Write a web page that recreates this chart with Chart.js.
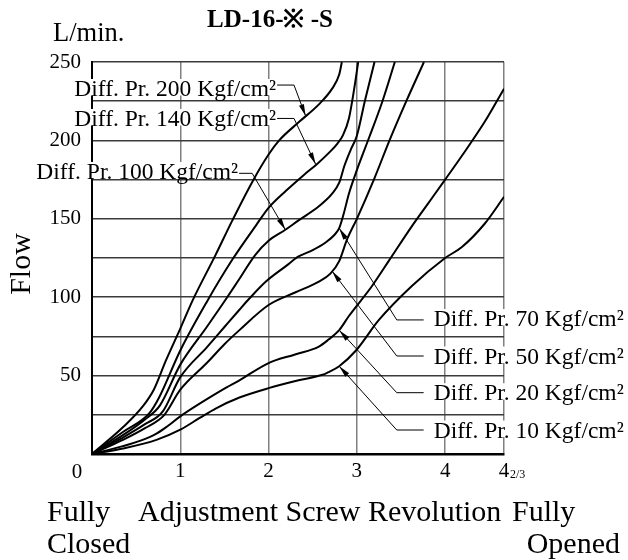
<!DOCTYPE html>
<html>
<head>
<meta charset="utf-8">
<title>LD-16 flow chart</title>
<script src="https://cdn.jsdelivr.net/npm/chart.js@4.4.0/dist/chart.umd.min.js"></script>
<style>
  html, body { margin: 0; padding: 0; background: #fff; }
  #wrap { width: 628px; height: 560px; }
</style>
</head>
<body>
<div id="wrap"><canvas id="flowChart" width="628" height="560"></canvas></div>
<script>
// --- Data (x: screw revolutions, y: flow L/min) ---
const diffPressures = [200, 140, 100, 70, 50, 20, 10];

const rev200 = [0, 0.35, 0.57, 0.7, 0.84, 1.0, 1.14, 1.4, 1.59, 1.82, 2.0, 2.12, 2.35, 2.57, 2.72, 2.8, 2.83];
const flow200 = [0, 17, 30, 41, 60, 80, 98, 127, 149, 174, 191, 200, 212, 223, 233, 242, 250];

const rev140 = [0, 0.35, 0.65, 0.76, 1.0, 1.3, 1.59, 1.86, 2.0, 2.2, 2.4, 2.55, 2.7, 2.78, 2.84, 2.91, 2.97, 3.015];
const flow140 = [0, 14, 26, 36, 66, 97, 124, 146, 157, 168, 178, 185, 193, 198, 203, 214, 233, 250];

const rev100 = [0, 0.35, 0.6, 0.77, 1.0, 1.3, 1.52, 1.65, 1.85, 2.0, 2.19, 2.34, 2.57, 2.72, 2.8, 2.86, 2.93, 3.0, 3.09, 3.2];
const flow100 = [0, 12, 22, 31, 57, 81, 99, 110, 127, 136, 143, 149, 158, 166, 173, 184, 194, 203, 225, 250];

const rev70 = [0, 0.35, 0.6, 0.8, 1.0, 1.3, 1.5, 1.67, 1.78, 1.97, 2.2, 2.34, 2.5, 2.65, 2.75, 2.8, 2.85, 2.91, 3.0, 3.14, 3.29, 3.43];
const flow70 = [0, 10.5, 19, 27, 49, 68, 81, 92, 99, 110, 120, 126, 130, 135, 140, 144, 153, 166, 181, 202, 225, 250];

const rev50 = [0, 0.35, 0.6, 0.82, 1.0, 1.3, 1.5, 1.67, 2.0, 2.3, 2.57, 2.7, 2.8, 2.89, 3.0, 3.2, 3.37, 3.56, 3.76];
const flow50 = [0, 9, 16.5, 25, 41, 58, 70, 79, 95, 103, 110, 115, 123, 137, 150, 176, 200, 225, 250];

const rev20 = [0, 0.35, 0.55, 0.73, 0.85, 1.0, 1.48, 1.67, 2.0, 2.3, 2.57, 2.68, 2.8, 2.91, 3.17, 3.36, 3.62, 3.81, 4.0, 4.2, 4.45, 4.667];
const flow20 = [0, 5, 8.5, 13, 17.5, 24, 41, 47, 58, 63.5, 68.5, 73, 79, 88, 107, 123, 145, 160, 175, 191, 212, 233];

const rev10 = [0, 0.35, 0.73, 1.0, 1.22, 1.4, 1.67, 2.0, 2.34, 2.61, 2.67, 2.8, 2.99, 3.25, 3.62, 4.0, 4.19, 4.45, 4.667];
const flow10 = [0, 3.5, 9, 15.5, 23, 29, 36, 42, 47, 50.5, 52, 56, 66, 85.5, 107, 125, 132, 147, 164];

const xTickValues = [0, 1, 2, 3, 4, 14 / 3];
const xTickLabels = ['', '1', '2', '3', '4', '4'];
const yLabelledTicks = [50, 100, 150, 200, 250];

const seriesX = [rev200, rev140, rev100, rev70, rev50, rev20, rev10];
const seriesY = [flow200, flow140, flow100, flow70, flow50, flow20, flow10];

// --- Leader labels (placed in chart units, converted through the scales) ---
const leaderNotes = [
    { p: 200, side: 'left', textX: 2.085, textY: 233.1, lineY: 235.3, elbowX: 2.288, tipX: 2.42, tipY: 215.5 },
    { p: 140, side: 'left', textX: 2.085, textY: 214.0, lineY: 214.0, elbowX: 2.288, tipX: 2.533, tipY: 184.8 },
    { p: 100, side: 'left', textX: 1.655, textY: 180.2, lineY: 179.0, elbowX: 1.814, tipX: 2.19, tipY: 143 },
    { p: 70, side: 'right', textX: 3.87, textY: 86.4, lineY: 85.5, elbowX: 3.452, tipX: 2.80, tipY: 144 },
    { p: 50, side: 'right', textX: 3.87, textY: 62.5, lineY: 62.5, elbowX: 3.452, tipX: 2.72, tipY: 116.6 },
    { p: 20, side: 'right', textX: 3.87, textY: 39.1, lineY: 39.1, elbowX: 3.452, tipX: 2.80, tipY: 79 },
    { p: 10, side: 'right', textX: 3.87, textY: 15.3, lineY: 15.3, elbowX: 3.452, tipX: 2.80, tipY: 56 }
];

const serif = '"Liberation Serif", "Times New Roman", serif';

function drawArrow(ctx, fromX, fromY, tipX, tipY) {
    const ang = Math.atan2(tipY - fromY, tipX - fromX);
    const len = 12, half = 2.6;
    ctx.beginPath();
    ctx.moveTo(tipX, tipY);
    ctx.lineTo(tipX - len * Math.cos(ang) + half * Math.sin(ang), tipY - len * Math.sin(ang) - half * Math.cos(ang));
    ctx.lineTo(tipX - len * Math.cos(ang) - half * Math.sin(ang), tipY - len * Math.sin(ang) + half * Math.cos(ang));
    ctx.closePath();
    ctx.fill();
}

function drawNote(ctx, xs, ys, note) {
    const text = `Diff. Pr. ${note.p} Kgf/cm²`;
    ctx.font = `23.5px ${serif}`;
    const w = ctx.measureText(text).width;
    const tx = xs.getPixelForValue(note.textX);
    const base = ys.getPixelForValue(note.textY) + 7.5;
    const left = note.side === 'left' ? tx - w : tx;

    // white box behind the text, like the original
    ctx.fillStyle = '#fff';
    ctx.fillRect(left - 1, base - 17, w + 2, 16.5);
    ctx.fillStyle = '#000';
    ctx.textAlign = 'left';
    ctx.textBaseline = 'alphabetic';
    ctx.fillText(text, left, base);

    // leader: short horizontal run then a diagonal to the curve
    const ly = ys.getPixelForValue(note.lineY);
    const startX = note.side === 'left' ? tx + 1 : xs.getPixelForValue(note.elbowX);
    const endX = note.side === 'left' ? xs.getPixelForValue(note.elbowX) : tx - 10;
    const elbowPx = note.side === 'left' ? endX : startX;
    const tipPx = xs.getPixelForValue(note.tipX);
    const tipPy = ys.getPixelForValue(note.tipY);
    ctx.strokeStyle = '#000';
    ctx.lineWidth = 1;
    ctx.beginPath();
    ctx.moveTo(startX, ly);
    ctx.lineTo(endX, ly);
    ctx.moveTo(elbowPx, ly);
    ctx.lineTo(tipPx, tipPy);
    ctx.stroke();
    drawArrow(ctx, elbowPx, ly, tipPx, tipPy);
}

const textPlugin = {
    id: 'flowText',
    afterDraw(chart) {
        const ctx = chart.ctx;
        const xs = chart.scales.x;
        const ys = chart.scales.y;
        ctx.save();

        leaderNotes.forEach(n => drawNote(ctx, xs, ys, n));

        ctx.fillStyle = '#000';
        ctx.textBaseline = 'alphabetic';

        // origin label and the "2/3" beside the last tick
        ctx.font = `21px ${serif}`;
        ctx.textAlign = 'center';
        ctx.fillText('0', xs.left - 15, 478);
        ctx.font = `12px ${serif}`;
        ctx.textAlign = 'left';
        ctx.fillText('2/3', xs.right + 6, 478);

        // title
        ctx.font = `bold 25px ${serif}`;
        ctx.textAlign = 'center';
        ctx.fillText('LD-16-※ -S', 270, 27);

        // unit
        ctx.font = `26.5px ${serif}`;
        ctx.textAlign = 'left';
        ctx.fillText('L/min.', 53, 41);

        // y title
        ctx.save();
        ctx.translate(22, 264);
        ctx.rotate(-Math.PI / 2);
        ctx.font = `30px ${serif}`;
        ctx.textAlign = 'center';
        ctx.textBaseline = 'middle';
        ctx.fillText('Flow', 0, 0);
        ctx.restore();

        // x title
        ctx.font = `30px ${serif}`;
        ctx.textAlign = 'left';
        ctx.fillText('Fully', 47, 521);
        ctx.fillText('Adjustment Screw Revolution', 138, 521);
        ctx.fillText('Fully', 512, 521);
        ctx.fillText('Closed', 47, 553);
        ctx.textAlign = 'right';
        ctx.fillText('Opened', 620, 553);

        ctx.restore();
    }
};

const datasets = diffPressures.map((p, i) => ({
    label: `Diff. Pr. ${p} Kgf/cm²`,
    data: seriesX[i].map((x, j) => ({ x: x, y: seriesY[i][j] })),
    borderColor: '#000',
    borderWidth: 2,
    pointRadius: 0,
    fill: false,
    cubicInterpolationMode: 'monotone'
}));

new Chart(document.getElementById('flowChart'), {
    type: 'line',
    data: { datasets: datasets },
    options: {
        responsive: false,
        animation: false,
        devicePixelRatio: 1,
        layout: { padding: { top: 62, right: 124, bottom: 76, left: 0 } },
        plugins: {
            legend: { display: false },
            tooltip: { enabled: false }
        },
        scales: {
            x: {
                type: 'linear',
                min: 0,
                max: 14 / 3,
                afterBuildTicks: scale => { scale.ticks = xTickValues.map(v => ({ value: v })); },
                afterFit: scale => { scale.height = 30; },
                ticks: {
                    autoSkip: false,
                    maxRotation: 0,
                    padding: 5,
                    color: '#000',
                    font: { family: serif, size: 21 },
                    callback: (v, i) => xTickLabels[i]
                },
                grid: { color: '#808080', lineWidth: 1.5, drawTicks: false },
                border: { color: '#000', width: 2.5 }
            },
            y: {
                min: 0,
                max: 250,
                afterFit: scale => { scale.width = 92; },
                ticks: {
                    stepSize: 25,
                    autoSkip: false,
                    padding: 11,
                    color: '#000',
                    font: { family: serif, size: 21 },
                    callback: v => yLabelledTicks.includes(v) ? String(v) : ''
                },
                grid: { color: '#3a3a3a', lineWidth: 1.5, drawTicks: false },
                border: { color: '#000', width: 2 }
            }
        }
    },
    plugins: [textPlugin]
});
</script>
</body>
</html>
